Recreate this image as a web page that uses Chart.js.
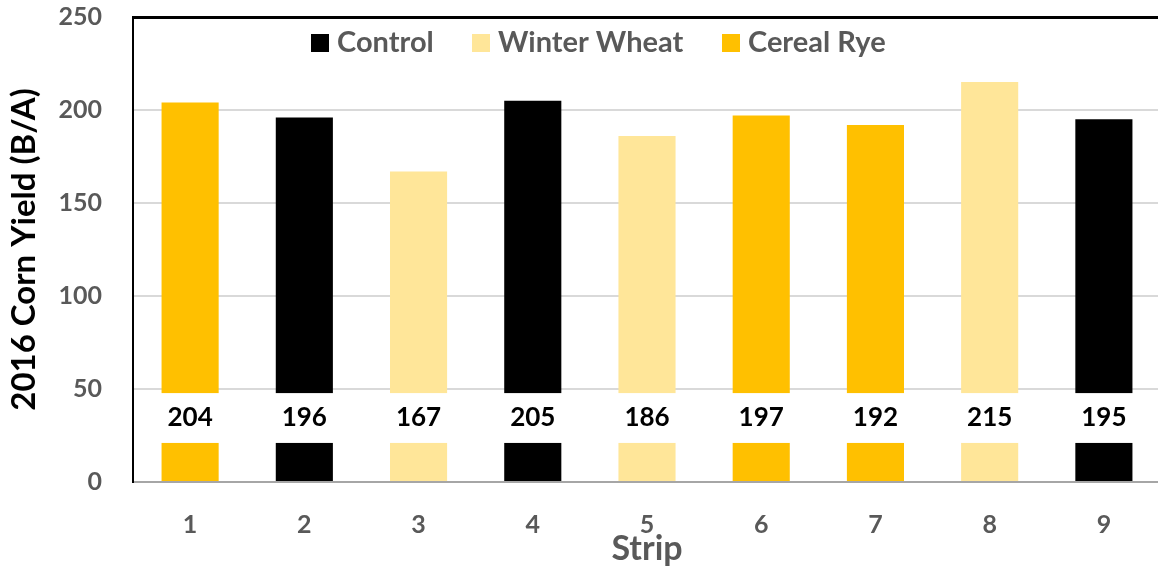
<!DOCTYPE html>
<html>
<head>
<meta charset="utf-8">
<script src="https://cdn.jsdelivr.net/npm/chart.js@4"></script>
<style>
  html, body { margin: 0; padding: 0; background: #fff; overflow: hidden; }
  #wrap { width: 1164px; height: 569px; }
</style>
</head>
<body>
<div id="wrap"><canvas id="yieldChart" width="1164" height="569"></canvas></div>
<script>
const strips = ['1', '2', '3', '4', '5', '6', '7', '8', '9'];
const control = [null, 196, null, 205, null, null, null, null, 195];
const winterWheat = [null, null, 167, null, 186, null, null, 215, null];
const cerealRye = [204, null, null, null, null, 197, 192, null, null];
const yTicks = [0, 50, 100, 150, 200, 250];

const FONT = 'Lato, "Open Sans", sans-serif';

// white box with the value in it, laid over the lower part of each bar
const valueBoxes = {
  id: 'valueBoxes',
  afterDatasetsDraw(chart) {
    const ctx = chart.ctx;
    const y = chart.scales.y;
    const top = y.getPixelForValue(47.8);
    const bottom = y.getPixelForValue(21);
    const mid = y.getPixelForValue(34.5);
    ctx.save();
    chart.data.datasets.forEach((ds, i) => {
      chart.getDatasetMeta(i).data.forEach((bar, j) => {
        const v = ds.data[j];
        if (v == null) return;
        const w = bar.width + 2;
        ctx.fillStyle = '#fff';
        ctx.fillRect(bar.x - w / 2, top, w, bottom - top);
        ctx.fillStyle = '#000';
        ctx.font = 'bold 26px ' + FONT;
        ctx.textAlign = 'center';
        ctx.textBaseline = 'middle';
        ctx.fillText(String(v), bar.x, mid);
      });
    });
    ctx.restore();
  }
};

// legend sits inside the plot area
const innerLegend = {
  id: 'innerLegend',
  afterDraw(chart) {
    const ctx = chart.ctx;
    const xs = [311, 472, 722];
    const cy = 43;
    ctx.save();
    ctx.font = 'bold 29px ' + FONT;
    ctx.textBaseline = 'middle';
    ctx.textAlign = 'left';
    chart.data.datasets.forEach((ds, i) => {
      ctx.fillStyle = ds.backgroundColor;
      ctx.fillRect(xs[i], cy - 9, 18, 18);
      ctx.fillStyle = '#595959';
      ctx.fillText(ds.label, xs[i] + 26, cy);
    });
    ctx.restore();
  }
};

new Chart(document.getElementById('yieldChart'), {
  type: 'bar',
  data: {
    labels: strips,
    datasets: [
      { label: 'Control', data: control, backgroundColor: '#000000' },
      { label: 'Winter Wheat', data: winterWheat, backgroundColor: '#FFE699' },
      { label: 'Cereal Rye', data: cerealRye, backgroundColor: '#FFC000' }
    ]
  },
  options: {
    responsive: false,
    animation: false,
    layout: { padding: { top: 17, right: 3, left: 0, bottom: 0 } },
    datasets: { bar: { categoryPercentage: 1, barPercentage: 0.5, skipNull: true } },
    plugins: {
      legend: { display: false },
      tooltip: { enabled: false }
    },
    scales: {
      x: {
        grid: { display: false, drawTicks: false },
        border: { color: '#a6a6a6', width: 2 },
        ticks: { color: '#595959', font: { family: FONT, size: 25, weight: 'bold' }, padding: 28 },
        title: { display: true, text: 'Strip', color: '#595959', font: { family: FONT, size: 34, weight: 'bold' }, padding: { top: -11, bottom: 0 } },
        afterFit(s) { s.height = 87; s.paddingLeft = 0; s.paddingRight = 0; }
      },
      y: {
        min: 0,
        max: 250,
        afterBuildTicks(s) { s.ticks = yTicks.map(v => ({ value: v })); },
        grid: {
          drawTicks: false,
          lineWidth: c => (c.tick && c.tick.value === 250 ? 3 : 2),
          color: c => (c.tick && c.tick.value === 250 ? '#000' : (c.tick && c.tick.value === 0 ? 'rgba(0,0,0,0)' : '#d9d9d9'))
        },
        border: { color: '#000', width: 2 },
        ticks: { color: '#595959', font: { family: FONT, size: 25, weight: 'bold' }, padding: 31 },
        title: { display: true, text: '2016 Corn Yield (B/A)', color: '#000', font: { family: FONT, size: 33, weight: 'bold' }, padding: { top: 5, bottom: 0 } },
        afterFit(s) { s.width = 133; s.paddingTop = 0; s.paddingBottom = 0; }
      }
    }
  },
  plugins: [valueBoxes, innerLegend]
});
</script>
</body>
</html>
